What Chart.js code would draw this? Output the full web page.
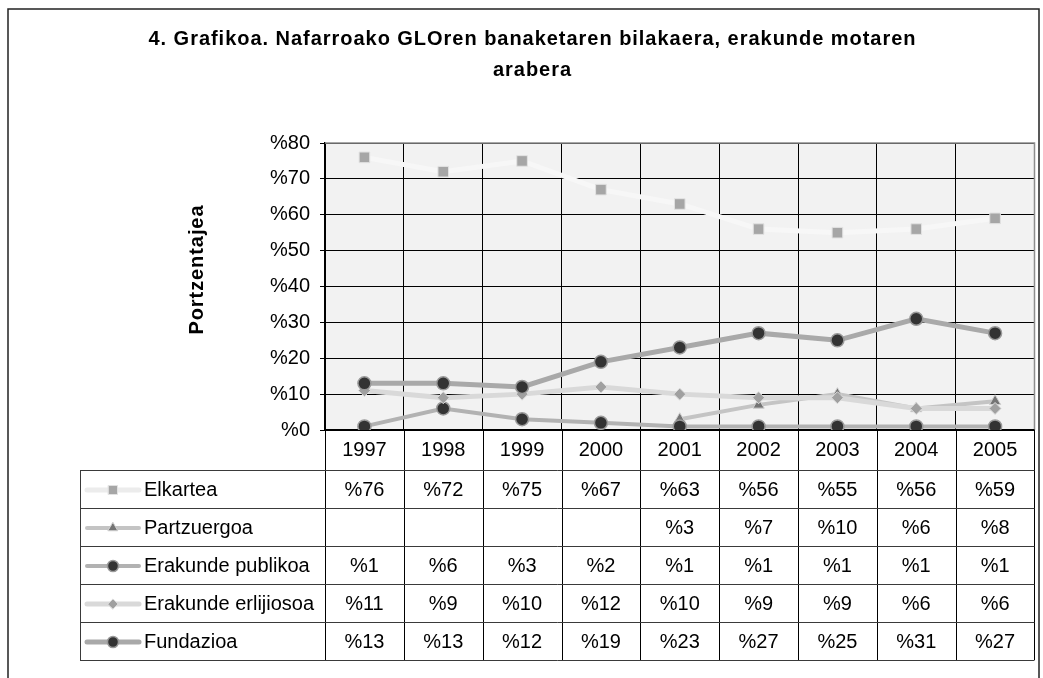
<!DOCTYPE html>
<html>
<head>
<meta charset="utf-8">
<script src="https://cdn.jsdelivr.net/npm/chart.js@4/dist/chart.umd.min.js"></script>
<style>
  body { margin: 0; background: #fff; }
  #wrap { width: 1043px; height: 678px; }
</style>
</head>
<body>
<div id="wrap"><canvas id="glorChart" width="1043" height="678"></canvas></div>
<script>
// data
const years = ['1997', '1998', '1999', '2000', '2001', '2002', '2003', '2004', '2005'];
const elkartea = [76, 72, 75, 67, 63, 56, 55, 56, 59];
const partzuergoa = [null, null, null, null, 3, 7, 10, 6, 8];
const erakundePublikoa = [1, 6, 3, 2, 1, 1, 1, 1, 1];
const erakundeErlijiosoa = [11, 9, 10, 12, 10, 9, 9, 6, 6];
const fundazioa = [13, 13, 12, 19, 23, 27, 25, 31, 27];
const seriesNames = ['Elkartea', 'Partzuergoa', 'Erakunde publikoa', 'Erakunde erlijiosoa', 'Fundazioa'];
const yTicks = [0, 10, 20, 30, 40, 50, 60, 70, 80];
const titleLines = ['4. Grafikoa. Nafarroako GLOren banaketaren bilakaera, erakunde motaren', 'arabera'];
const yTitle = 'Portzentajea';

const FONT = '"Liberation Sans", Arial, sans-serif';
const TEXT_SIZE = 20;

const styles = [
    { line: '#f7f7f7', width: 5, point: 'rect', radius: 7.5, fill: '#a6a6a6', border: '#e2e2e2', bw: 1 },
    { line: '#c4c4c4', width: 4, point: 'triangle', radius: 6.5, fill: '#747474', border: '#d0d0d0', bw: 1 },
    { line: '#b2b2b2', width: 4, point: 'circle', radius: 6.5, fill: '#333333', border: '#9a9a9a', bw: 1.5 },
    { line: '#d9d9d9', width: 5, point: 'rectRot', radius: 6, fill: '#a0a0a0', border: '#dcdcdc', bw: 1 },
    { line: '#a9a9a9', width: 5, point: 'circle', radius: 6.5, fill: '#333333', border: '#9a9a9a', bw: 1.5 }
];
const seriesData = [elkartea, partzuergoa, erakundePublikoa, erakundeErlijiosoa, fundazioa];

const datasets = seriesNames.map((name, i) => ({
    label: name,
    data: seriesData[i],
    borderColor: styles[i].line,
    borderWidth: styles[i].width,
    pointStyle: styles[i].point,
    pointRadius: styles[i].radius,
    pointHoverRadius: styles[i].radius,
    pointBackgroundColor: styles[i].fill,
    pointBorderColor: styles[i].border,
    pointBorderWidth: styles[i].bw,
    tension: 0,
    spanGaps: false,
    order: seriesNames.length - 1 - i
}));

const TABLE_LEFT = 80;
const TABLE_TOP = 470;
const ROW_H = 38;

function fitSpacing(ctx, text, target) {
    ctx.letterSpacing = '0px';
    const w = ctx.measureText(text).width;
    return Math.max(0, (target - w) / text.length);
}

const framePlugin = {
    id: 'frame',
    beforeDraw(chart) {
        const { ctx, chartArea: a } = chart;
        ctx.save();
        ctx.fillStyle = '#f2f2f2';
        ctx.fillRect(a.left, a.top, a.right - a.left, a.bottom - a.top);
        ctx.restore();
    },
    beforeDatasetsDraw(chart) {
        const { ctx, chartArea: a } = chart;
        ctx.save();
        ctx.strokeStyle = '#8c8c8c';
        ctx.lineWidth = 1.5;
        ctx.beginPath();
        ctx.moveTo(a.left, a.top);
        ctx.lineTo(a.right, a.top);
        ctx.lineTo(a.right, a.bottom);
        ctx.stroke();
        ctx.strokeStyle = '#000';
        ctx.lineWidth = 2;
        ctx.beginPath();
        ctx.moveTo(a.left, a.bottom);
        ctx.lineTo(a.right, a.bottom);
        ctx.stroke();
        ctx.restore();
    },
    afterDraw(chart) {
        const { ctx, chartArea: a } = chart;
        const x = chart.scales.x;
        const half = (x.getPixelForValue(1) - x.getPixelForValue(0)) / 2;
        const tableBottom = TABLE_TOP + ROW_H * seriesNames.length;
        ctx.save();

        // outer frame
        ctx.strokeStyle = '#222';
        ctx.lineWidth = 1.5;
        ctx.beginPath();
        ctx.moveTo(8, 678);
        ctx.lineTo(8, 9);
        ctx.lineTo(1039, 9);
        ctx.lineTo(1039, 678);
        ctx.stroke();

        // title
        ctx.fillStyle = '#000';
        ctx.textAlign = 'center';
        ctx.textBaseline = 'alphabetic';
        ctx.font = 'bold 20px ' + FONT;
        const sp = fitSpacing(ctx, titleLines[0], 768);
        ctx.letterSpacing = sp + 'px';
        ctx.fillText(titleLines[0], 532 + sp / 2, 45);
        ctx.fillText(titleLines[1], 532 + sp / 2, 76);

        // y axis title
        ctx.save();
        ctx.translate(203, 270);
        ctx.rotate(-Math.PI / 2);
        ctx.font = 'bold 20px ' + FONT;
        const sp2 = fitSpacing(ctx, yTitle, 130);
        ctx.letterSpacing = sp2 + 'px';
        ctx.textBaseline = 'alphabetic';
        ctx.fillText(yTitle, sp2 / 2, 0);
        ctx.restore();
        ctx.letterSpacing = '0px';

        // table grid
        ctx.lineWidth = 1;
        ctx.strokeStyle = '#000';
        for (let i = 0; i <= years.length; i++) {
            const px = Math.round(x.getPixelForValue(i) - half) + 0.5;
            ctx.beginPath();
            ctx.moveTo(px, a.bottom);
            ctx.lineTo(px, tableBottom);
            ctx.stroke();
        }
        ctx.strokeStyle = '#3a3a3a';
        for (let r = 0; r <= seriesNames.length; r++) {
            const py = TABLE_TOP + r * ROW_H + 0.5;
            ctx.beginPath();
            ctx.moveTo(TABLE_LEFT, py);
            ctx.lineTo(a.right, py);
            ctx.stroke();
        }
        ctx.beginPath();
        ctx.moveTo(TABLE_LEFT + 0.5, TABLE_TOP);
        ctx.lineTo(TABLE_LEFT + 0.5, tableBottom);
        ctx.stroke();

        // rows: legend key, name, values
        ctx.font = TEXT_SIZE + 'px ' + FONT;
        ctx.textBaseline = 'middle';
        seriesNames.forEach((name, r) => {
            const cy = TABLE_TOP + r * ROW_H + ROW_H / 2 + 1;
            const st = styles[r];
            ctx.strokeStyle = st.line === '#f7f7f7' ? '#ececec' : st.line;
            ctx.lineWidth = st.width;
            ctx.lineCap = 'round';
            ctx.beginPath();
            ctx.moveTo(87, cy);
            ctx.lineTo(139, cy);
            ctx.stroke();
            ctx.fillStyle = st.fill;
            ctx.strokeStyle = st.border;
            ctx.lineWidth = st.bw;
            Chart.helpers.drawPoint(ctx, { pointStyle: st.point, radius: st.radius * 0.85, borderWidth: st.bw, rotation: 0 }, 113, cy);

            ctx.fillStyle = '#000';
            ctx.textAlign = 'left';
            ctx.fillText(name, 144, cy);
            ctx.textAlign = 'center';
            seriesData[r].forEach((v, i) => {
                if (v === null) return;
                ctx.fillText('%' + v, x.getPixelForValue(i), cy);
            });
        });
        ctx.restore();
    }
};

new Chart(document.getElementById('glorChart'), {
    type: 'line',
    data: { labels: years, datasets: datasets },
    options: {
        responsive: false,
        animation: false,
        events: [],
        layout: { padding: { top: 143, right: 6, bottom: 208, left: 0 } },
        plugins: {
            legend: { display: false },
            tooltip: { enabled: false }
        },
        scales: {
            x: {
                offset: true,
                grid: { offset: true, color: '#000', lineWidth: 1, drawTicks: false },
                border: { color: '#000', width: 2 },
                ticks: { color: '#000', font: { family: FONT, size: TEXT_SIZE }, padding: 8, maxRotation: 0 },
                afterFit: s => { s.height = 40; }
            },
            y: {
                min: 0,
                max: 80,
                afterBuildTicks: s => { s.ticks = yTicks.map(v => ({ value: v })); },
                grid: { color: '#000', lineWidth: 1, tickLength: 5 },
                border: { color: '#000', width: 1.5 },
                ticks: { color: '#000', font: { family: FONT, size: TEXT_SIZE }, padding: 10, callback: v => '%' + v },
                afterFit: s => { s.width = 325; }
            }
        }
    },
    plugins: [framePlugin]
});
</script>
</body>
</html>
